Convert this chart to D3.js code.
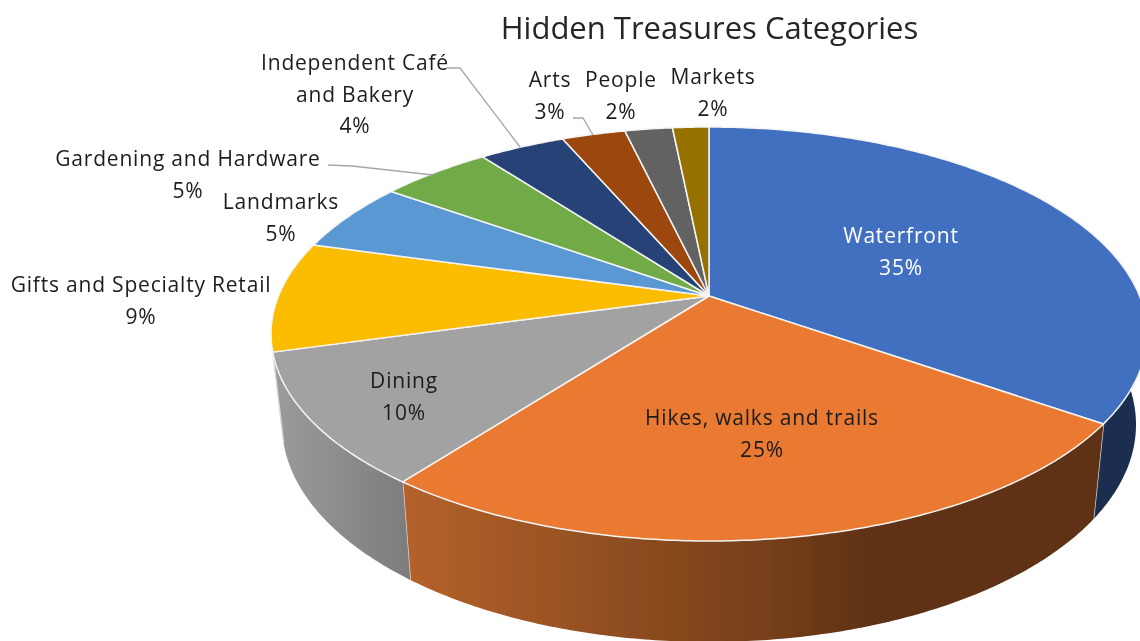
<!DOCTYPE html>
<html><head><meta charset="utf-8">
<script src="https://cdn.jsdelivr.net/npm/d3@7"></script>
<style>html,body{margin:0;padding:0;background:#fff;overflow:hidden}svg{display:block}text{font-family:"Open Sans",sans-serif}</style>
</head><body><svg id="c" width="1140" height="641"></svg>
<script>
const chartTitle = "Hidden Treasures Categories";
const categories = ["Waterfront","Hikes, walks and trails","Dining","Gifts and Specialty Retail","Landmarks","Gardening and Hardware","Independent Café|and Bakery","Arts","People","Markets"];
const values = [34.7,25.7,10.3,8.6,5.5,4.9,3.8,2.8,2.1,1.6];
const percentLabels = ["35%","25%","10%","9%","5%","5%","4%","3%","2%","2%"];
const topColors = ["#4270c1","#ea7a30","#a2a2a2","#fcbd00","#5a98d3","#6fab46","#254377","#9c470f","#626262","#967100"];
const wallStops = [[["#1a2d50",0],["#1a2d50",1]],[["#b5622a",0],["#77401a",.51],["#5e3114",.68],["#5e3114",1]],[["#9c9c9c",0],["#7c7c7c",1]],null,null,null,null,null,null,null];

const W=1140,H=641,cx=709,cy=296,a=430.5,b=200,p=0.1836;
const labelCentres=[[901,235],[762,417],[404,380],[141,284],[281,201],[188,158],[355,62],[550,79],[621,79],[713,76]];
const lineGap=31.7;
const leaders=[[[447,68],[460,68],[520,147]],[[328,165],[352,166],[433,175]],[[573,118],[583,118],[593,135]]];

const svg=d3.select("#c");
const defs=svg.append("defs");
defs.append("filter").attr("id","soft").attr("x","-5%").attr("y","-5%").attr("width","110%").attr("height","110%")
  .append("feGaussianBlur").attr("stdDeviation",0.6);
const root=svg.append("g").attr("filter","url(#soft)");
svg.insert("rect","g").attr("width",W).attr("height",H).attr("fill","#fff");

const arcs=d3.pie().sort(null).value(d=>d)(values);
const top3=t=>{const u=Math.sin(t),v=-Math.cos(t),k=1/(1-p*v);return [cx+a*u*k,cy+b*v*k];};
const low3=t=>{const q=top3(t);return [cx+.975*(q[0]-cx),cy+(q[1]-cy)*1.05+88.7];};
const line=d3.line();
const samples=(s,e)=>{const n=Math.max(2,Math.ceil((e-s)/.01));return d3.range(n+1).map(i=>s+(e-s)*i/n);};

// side walls
arcs.forEach((d,i)=>{
  const stops=wallStops[i]; if(!stops) return;
  const s=i===0?Math.PI/2*0.9:d.startAngle, e=d.endAngle;
  const ts=samples(s,e);
  const pts=ts.map(top3).concat(ts.slice().reverse().map(low3));
  const xs=pts.map(q=>q[0]);
  const id="w"+i;
  const g=defs.append("linearGradient").attr("id",id).attr("gradientUnits","userSpaceOnUse")
    .attr("x1",d3.min(xs)).attr("x2",d3.max(xs)).attr("y1",0).attr("y2",0);
  stops.forEach(st=>g.append("stop").attr("offset",st[1]).attr("stop-color",st[0]));
  root.append("path").attr("d",line(pts)+"Z").attr("fill",`url(#${id})`);
  root.append("path").attr("d",line([top3(e),low3(e)])).attr("stroke","#dcdcdc").attr("stroke-width",1.4).attr("fill","none");
});

// top faces
arcs.forEach((d,i)=>{
  const pts=[[cx,cy]].concat(samples(d.startAngle,d.endAngle).map(top3));
  root.append("path").attr("d",line(pts)+"Z").attr("fill",topColors[i]).attr("stroke","#f4f4f4").attr("stroke-width",1.5).attr("stroke-linejoin","round");
});

// leaders
leaders.forEach(l=>root.append("path").attr("d",line(l)).attr("fill","none").attr("stroke","#a6a6a6").attr("stroke-width",1.3));

// text
root.append("text").attr("x",709.5).attr("y",27).attr("text-anchor","middle").attr("dominant-baseline","central")
  .attr("font-size",31).attr("fill","#262626").text(chartTitle);
categories.forEach((c,i)=>{
  const [x,y]=labelCentres[i];
  const rows=c.split("|").concat(percentLabels[i]);
  rows.forEach((r,j)=>root.append("text").attr("x",x).attr("y",y+j*lineGap).attr("text-anchor","middle")
    .attr("dominant-baseline","central").attr("font-size",21).attr("letter-spacing",.8).attr("fill",i===0?"#fff":"#1c1c1c").text(r));
});
</script></body></html>
